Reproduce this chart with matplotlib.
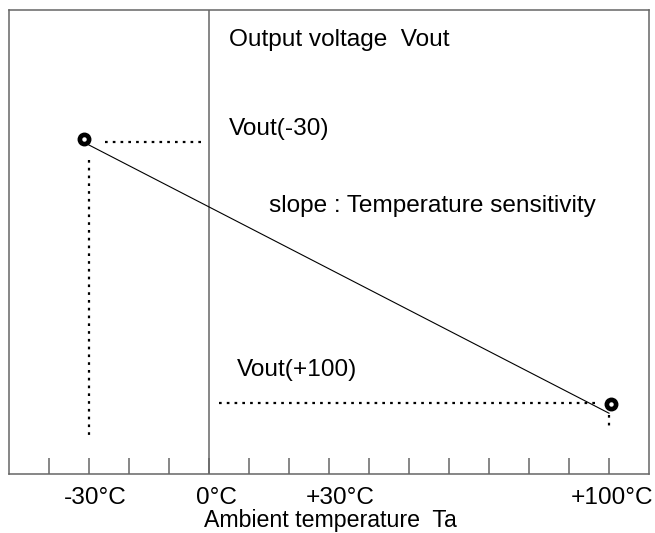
import matplotlib
matplotlib.use("Agg")
import matplotlib.pyplot as plt

plt.rcParams['font.family'] = ['Liberation Sans', 'DejaVu Sans']

# data (x: ambient temperature in °C, y: arbitrary output voltage units)
line_x = [-30, 100]
line_y = [70.9, 13.1]
marker_x = [-31.3, 100.5]
marker_y = [72.2, 15.1]
tick_positions = list(range(-40, 101, 10))
tick_labels = ["-30°C", "0°C", "+30°C", "+100°C"]
tick_label_x = [-28.5, 1.75, 32.75, 100.75]

# dotted guide lines
h1_x = [-26, -1.5]; h1_y = [71.6, 71.6]
v1_x = [-30, -30]; v1_y = [67.7, 7.3]
h2_x = [2.5, 97]; h2_y = [15.4, 15.4]
v2_x = [100, 100]; v2_y = [12.7, 9.5]

fig = plt.figure(figsize=(6.55, 5.33), dpi=100)
W, H = 655, 533
ax = fig.add_axes([8.5 / W, (H - 474) / H, (649 - 8.5) / W, (474 - 10) / H])
ax.set_xlim((8.5 - 209) / 4, (649 - 209) / 4)
ax.set_ylim(0, 100)
for s in ax.spines.values():
    s.set_color('#666666')
    s.set_linewidth(1.1)
ax.set_xticks([]); ax.set_yticks([])

# tick marks drawn inside
for t in tick_positions:
    ax.plot([t, t], [0, 16 / 4.64], color='#666666', lw=1.1, solid_capstyle='butt')

# 0°C vertical axis
ax.axvline(0, color='#666666', lw=1.1)

# characteristic line
ax.plot(line_x, line_y, color='black', lw=0.8)

dot = dict(color='black', lw=1.6, linestyle=(0, (1.2, 2.3)))
ax.plot(h1_x, h1_y, **dot)
ax.plot(v1_x, v1_y, **dot)
ax.plot(h2_x, h2_y, **dot)
ax.plot(v2_x, v2_y, **dot)

ax.plot(marker_x, marker_y, 'o', ms=9, mfc='black', mec='black', zorder=5)
ax.plot(marker_x, marker_y, 'o', ms=2.2, mfc='white', mec='white', zorder=6)

fs = 17.6
ax.text(5.0, 93.5, "Output voltage  Vout", fontsize=fs, va='center', ha='left')
ax.text(5.0, 74.4, "Vout(-30)", fontsize=fs, va='center', ha='left')
ax.text(15.0, 57.8, "slope : Temperature sensitivity", fontsize=fs, va='center', ha='left')
ax.text(7.0, 22.4, "Vout(+100)", fontsize=fs, va='center', ha='left')

for x, lab in zip(tick_label_x, tick_labels):
    ax.text(x, -5.2, lab, fontsize=fs, ha='center', va='center', clip_on=False)
ax.text((330 - 209) / 4, (474 - 521) / 4.64, "Ambient temperature  Ta", fontsize=16.7,
        ha='center', va='center', clip_on=False)

fig.savefig("out.png", dpi=100)
